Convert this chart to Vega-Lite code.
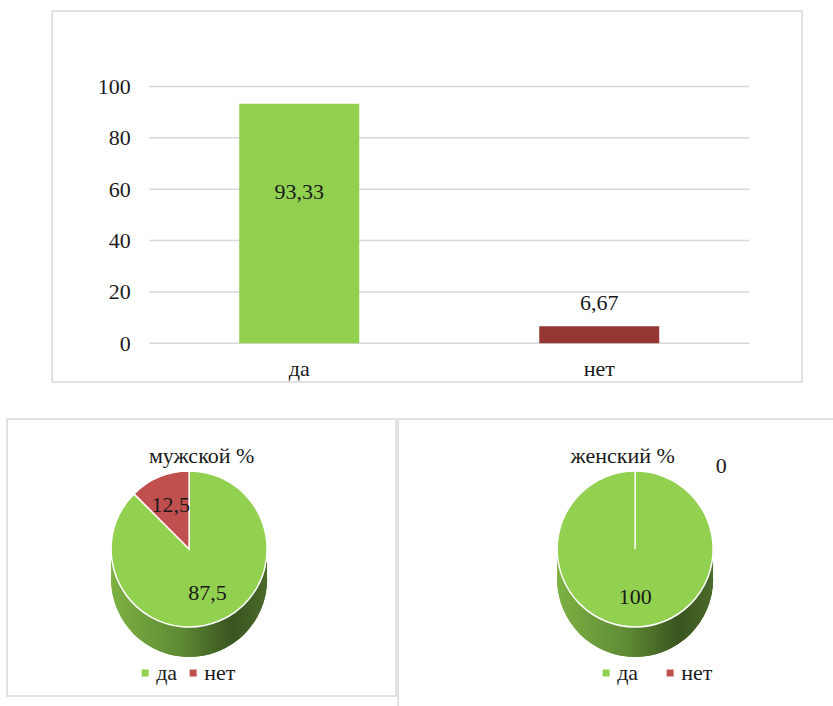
{
  "$schema": "https://vega.github.io/schema/vega-lite/v6.json",
  "padding": {"left": 6, "top": 10, "right": 0, "bottom": 0},
  "background": "white",
  "datasets": {
    "overall": [{"answer": "да", "value": 93.33}, {"answer": "нет", "value": 6.67}],
    "ticks": [{"tick": 0}, {"tick": 20}, {"tick": 40}, {"tick": 60}, {"tick": 80}, {"tick": 100}],
    "male": [{"answer": "да", "value": 87.5}, {"answer": "нет", "value": 12.5}],
    "female": [{"answer": "да", "value": 100}, {"answer": "нет", "value": 0}]
  },
  "config": {
    "locale": {"number": {"decimal": ",", "thousands": " ", "grouping": [3], "currency": ["", ""]}},
    "view": {"stroke": "#D9D9D9", "strokeWidth": 1.5},
    "font": "Liberation Serif",
    "axis": {"labelFont": "Liberation Serif", "labelFontSize": 22, "labelColor": "#1a1a1a"},
    "legend": {"labelFont": "Liberation Serif", "labelFontSize": 22, "labelColor": "#1a1a1a"},
    "title": {"font": "Liberation Serif", "fontSize": 22, "fontWeight": "normal", "color": "#1a1a1a"}
  },
  "spacing": 35,
  "center": true,
  "resolve": {"scale": {"color": "independent"}, "legend": {"color": "independent"}},
  "vconcat": [
    {
      "width": 750,
      "height": 371,
      "data": {"name": "overall"},
      "encoding": {
        "x": {"field": "answer", "type": "nominal", "sort": null,
          "scale": {"domain": ["да", "нет"], "paddingInner": 0.6, "paddingOuter": 0.55, "align": 0.567},
          "axis": {"title": null, "orient": "bottom", "offset": -39, "labelPadding": 15, "domain": false, "ticks": false, "labelAngle": 0}},
        "y": {"field": "value", "type": "quantitative",
          "scale": {"domain": [-15.07, 129.4], "nice": false, "zero": false},
          "axis": {"title": null, "values": [0, 20, 40, 60, 80, 100], "domain": false, "ticks": false, "grid": false, "offset": -80, "labelPadding": 2}}
      },
      "layer": [
        {
          "data": {"name": "ticks"},
          "mark": {"type": "rule", "color": "#D9D9D9", "strokeWidth": 1.5},
          "encoding": {
            "y": {"field": "tick", "type": "quantitative",
              "scale": {"domain": [-15.07, 129.4], "nice": false, "zero": false},
              "axis": {"title": null, "values": [0, 20, 40, 60, 80, 100], "domain": false, "ticks": false, "grid": false, "offset": -80, "labelPadding": 2}},
            "x": {"datum": "да", "type": "nominal", "bandPosition": -0.75},
            "x2": {"datum": "нет", "bandPosition": 1.75}
          }
        },
        {
          "mark": {"type": "bar"},
          "encoding": {
            "y2": {"datum": 0},
            "color": {"field": "answer", "type": "nominal", "scale": {"domain": ["да", "нет"], "range": ["#92D050", "#953735"]}, "legend": null}
          }
        },
        {
          "transform": [{"filter": "datum.answer === 'да'"}],
          "mark": {"type": "text", "dy": 88, "fontSize": 22, "font": "Liberation Serif", "color": "#1a1a1a"},
          "encoding": {"text": {"field": "value", "type": "quantitative", "format": ".2~f"}}
        },
        {
          "transform": [{"filter": "datum.answer === 'нет'"}],
          "mark": {"type": "text", "dy": -23, "fontSize": 22, "font": "Liberation Serif", "color": "#1a1a1a"},
          "encoding": {"text": {"field": "value", "type": "quantitative", "format": ".2~f"}}
        }
      ]
    },
    {
      "spacing": 0,
      "resolve": {"scale": {"color": "independent", "theta": "independent"}, "legend": {"color": "independent"}},
      "hconcat": [
        {
          "width": 389,
          "height": 277,
          "view": {"stroke": "#D9D9D9", "strokeWidth": 1.5},
          "title": {"text": "мужской %", "offset": -49, "anchor": "middle"},
          "data": {"name": "male"},
          "layer": [
            {
              "mark": {"type": "arc", "radius": 78, "theta": 0, "theta2": 6.2832, "xOffset": -12.5, "yOffset": 21.5,
                "fill": {"gradient": "linear", "x1": 0, "y1": 0, "x2": 1, "y2": 0,
                  "stops": [{"offset": 0, "color": "#7DB142"}, {"offset": 0.45, "color": "#5E8A35"}, {"offset": 0.78, "color": "#39541F"}, {"offset": 1, "color": "#4A6B2A"}]}},
              "encoding": {}
            },
            {
              "mark": {"type": "arc", "radius": 78, "theta": 0, "theta2": 6.2832, "xOffset": -12.5, "yOffset": 6.5,
                "fill": {"gradient": "linear", "x1": 0, "y1": 0, "x2": 1, "y2": 0,
                  "stops": [{"offset": 0, "color": "#7DB142"}, {"offset": 0.45, "color": "#5E8A35"}, {"offset": 0.78, "color": "#39541F"}, {"offset": 1, "color": "#4A6B2A"}]}},
              "encoding": {}
            },
            {
              "mark": {"type": "arc", "radius": 78, "stroke": "white", "strokeWidth": 1.5, "xOffset": -12.5, "yOffset": -8.5},
              "encoding": {
                "theta": {"field": "value", "type": "quantitative", "stack": true},
                "order": {"field": "answer", "sort": "ascending"},
                "color": {"field": "answer", "type": "nominal", "scale": {"domain": ["да", "нет"], "range": ["#92D050", "#C0504D"]},
                  "legend": {"orient": "none", "legendX": 127, "legendY": 243, "direction": "horizontal", "title": null, "symbolType": "square", "symbolSize": 49, "symbolStrokeWidth": 0, "columnPadding": 5, "labelOffset": 0}}
              }
            },
            {
              "mark": {"type": "text", "radius": 48, "fontSize": 22, "font": "Liberation Serif", "color": "#1a1a1a", "xOffset": -12.5, "yOffset": -8.5},
              "encoding": {
                "theta": {"field": "value", "type": "quantitative", "stack": true},
                "order": {"field": "answer", "sort": "ascending"},
                "text": {"field": "value", "type": "quantitative", "format": ".1~f"}
              }
            }
          ]
        },
        {
          "width": 449,
          "height": 300,
          "view": {"stroke": "#D9D9D9", "strokeWidth": 1.5},
          "title": {"text": "женский %", "offset": -49, "anchor": "middle"},
          "data": {"name": "female"},
          "layer": [
            {
              "mark": {"type": "arc", "radius": 78, "theta": 0, "theta2": 6.2832, "xOffset": 12.5, "yOffset": 10,
                "fill": {"gradient": "linear", "x1": 0, "y1": 0, "x2": 1, "y2": 0,
                  "stops": [{"offset": 0, "color": "#7DB142"}, {"offset": 0.45, "color": "#5E8A35"}, {"offset": 0.78, "color": "#39541F"}, {"offset": 1, "color": "#4A6B2A"}]}},
              "encoding": {}
            },
            {
              "mark": {"type": "arc", "radius": 78, "theta": 0, "theta2": 6.2832, "xOffset": 12.5, "yOffset": -5,
                "fill": {"gradient": "linear", "x1": 0, "y1": 0, "x2": 1, "y2": 0,
                  "stops": [{"offset": 0, "color": "#7DB142"}, {"offset": 0.45, "color": "#5E8A35"}, {"offset": 0.78, "color": "#39541F"}, {"offset": 1, "color": "#4A6B2A"}]}},
              "encoding": {}
            },
            {
              "mark": {"type": "arc", "radius": 78, "stroke": "white", "strokeWidth": 1.5, "xOffset": 12.5, "yOffset": -20},
              "encoding": {
                "theta": {"field": "value", "type": "quantitative", "stack": true},
                "order": {"field": "answer", "sort": "ascending"},
                "color": {"field": "answer", "type": "nominal", "scale": {"domain": ["да", "нет"], "range": ["#92D050", "#C0504D"]},
                  "legend": {"orient": "none", "legendX": 197, "legendY": 243, "direction": "horizontal", "title": null, "symbolType": "square", "symbolSize": 49, "symbolStrokeWidth": 0, "columnPadding": 21, "labelOffset": 0}}
              }
            },
            {
              "transform": [{"filter": "datum.answer === 'да'"}],
              "mark": {"type": "text", "radius": 48, "fontSize": 22, "font": "Liberation Serif", "color": "#1a1a1a", "xOffset": 12.5, "yOffset": -20},
              "encoding": {
                "theta": {"field": "value", "type": "quantitative", "stack": true},
                "text": {"field": "value", "type": "quantitative", "format": ".1~f"}
              }
            },
            {
              "transform": [{"filter": "datum.answer === 'нет'"}],
              "mark": {"type": "text", "radius": 83, "dx": 86, "fontSize": 22, "font": "Liberation Serif", "color": "#1a1a1a", "xOffset": 12.5, "yOffset": -20},
              "encoding": {
                "theta": {"field": "value", "type": "quantitative", "stack": true},
                "text": {"field": "value", "type": "quantitative", "format": ".1~f"}
              }
            }
          ]
        }
      ]
    }
  ]
}
